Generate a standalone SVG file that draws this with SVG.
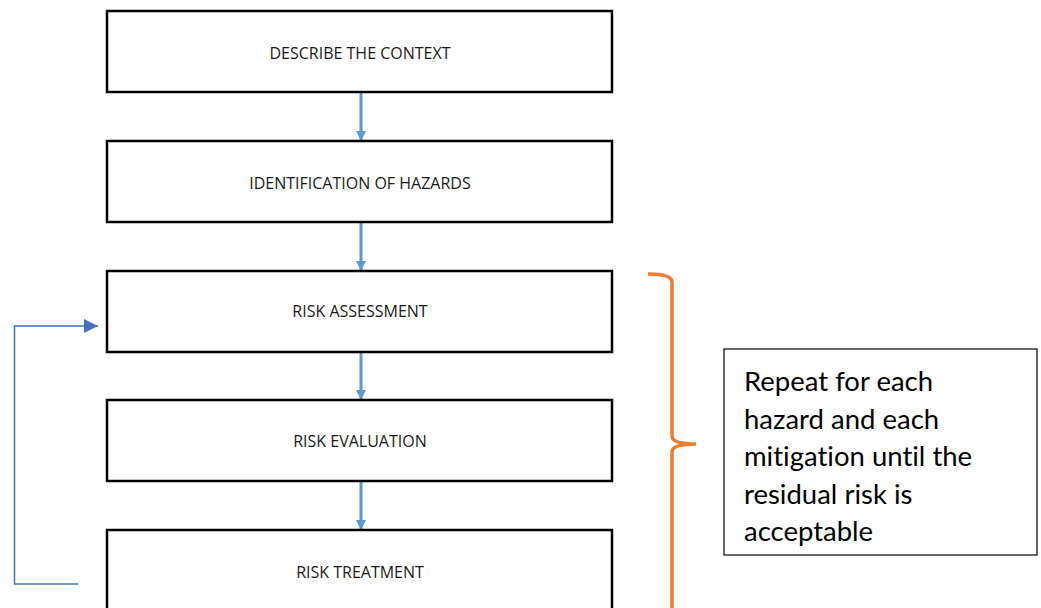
<svg xmlns="http://www.w3.org/2000/svg" width="1041" height="608" viewBox="0 0 1041 608">
<defs>
<marker id="ah" markerWidth="10" markerHeight="10" refX="9" refY="5" orient="auto" markerUnits="userSpaceOnUse">
<path d="M0,0 L10,5 L0,10 Z" fill="#5B9BD5"/>
</marker>
<marker id="ah2" markerWidth="14" markerHeight="14" refX="14" refY="7" orient="auto" markerUnits="userSpaceOnUse">
<path d="M0,0 L14,7 L0,14 Z" fill="#4472C4"/>
</marker>
<style>
.box{fill:#fff;stroke:#000;stroke-width:2.5}
.lbl{font-family:"Open Sans","Liberation Sans",sans-serif;font-size:16px;fill:#1a1a1a;text-anchor:middle}
.conn{stroke:#5B9BD5;stroke-width:3;fill:none}
.note{font-family:"Lato","Liberation Sans",sans-serif;font-size:27.5px;fill:#000;font-variant-ligatures:none}
</style>
</defs>
<rect width="1041" height="608" fill="#fff"/>
<g id="connectors">
<line class="conn" x1="361" y1="93" x2="361" y2="140" marker-end="url(#ah)"/>
<line class="conn" x1="361" y1="223" x2="361" y2="270" marker-end="url(#ah)"/>
<line class="conn" x1="361" y1="353" x2="361" y2="399" marker-end="url(#ah)"/>
<line class="conn" x1="361" y1="482" x2="361" y2="529" marker-end="url(#ah)"/>
<polyline points="78,584 14.5,584 14.5,326 98,326" fill="none" stroke="#4472C4" stroke-width="1.5" marker-end="url(#ah2)"/>
</g>
<g id="n1"><rect class="box" x="107" y="11" width="505" height="81"/><text class="lbl" x="360" y="58.5">DESCRIBE THE CONTEXT</text></g>
<g id="n2"><rect class="box" x="107" y="141" width="505" height="81"/><text class="lbl" x="360" y="189">IDENTIFICATION OF HAZARDS</text></g>
<g id="n3"><rect class="box" x="107" y="271" width="505" height="81"/><text class="lbl" x="360" y="317">RISK ASSESSMENT</text></g>
<g id="n4"><rect class="box" x="107" y="400" width="505" height="81"/><text class="lbl" x="360" y="447">RISK EVALUATION</text></g>
<g id="n5"><rect class="box" x="107" y="530" width="505" height="90"/><text class="lbl" x="360" y="578">RISK TREATMENT</text></g>
<g id="brace">
<path d="M648,274 Q672,274 672,282 L672,436 Q672,444 696,444 Q672,444 672,452 L672,610" fill="none" stroke="#ED7D31" stroke-width="3.5"/>
</g>
<g id="note">
<rect x="724" y="349" width="313" height="206" fill="#fff" stroke="#000" stroke-width="1.2"/>
<text class="note" x="744" y="391">Repeat for each</text>
<text class="note" x="744" y="428.5">hazard and each</text>
<text class="note" x="744" y="466">mitigation until the</text>
<text class="note" x="744" y="503.5">residual risk is</text>
<text class="note" x="744" y="541">acceptable</text>
</g>
</svg>
